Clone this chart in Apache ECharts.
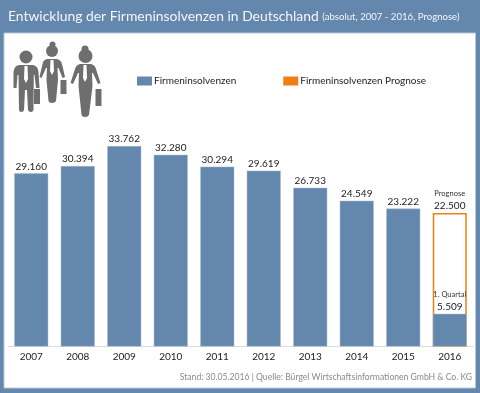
<!DOCTYPE html>
<html>
<head>
<meta charset="utf-8">
<style>
  html, body { margin: 0; padding: 0; background: #6487ae; }
  #chart { width: 480px; height: 393px; }
</style>
<script src="https://cdn.jsdelivr.net/npm/echarts@6/dist/echarts.min.js"></script>
</head>
<body>
<div id="chart"></div>
<script>
const years = ['2007', '2008', '2009', '2010', '2011', '2012', '2013', '2014', '2015', '2016']
const insolvenzen = [29160, 30394, 33762, 32280, 30294, 29619, 26733, 24549, 23222, 5509]
const prognose = [null, null, null, null, null, null, null, null, null, 22500]

const blue = '#6487ae'
const orange = '#f07f12'
const grey = '#6e6e6e'
const font = 'Lato'

const fmt = (v) => String(v).replace(/\B(?=(\d{3})+$)/g, '.')

// Figuren oben links
const figures = {
  man: 'M19 65L33 65Q38 66 38.5 72L39.5 88L36 88L34.5 75L33.8 75L33.5 110Q33 112 31 112Q28.5 112 28 110L27 90L25 90L24 110Q23.5 112 21.5 112Q19 112 19 110L18.5 75L17.5 75L16.5 88L13.5 88L13.5 72Q14 66 19 65Z',
  woman1: 'M47 59L57 59Q61 60 62 64L65 77L62.5 78L58.5 68L57.5 68L58 80L56 101Q55 103 52 103Q49 103 48.5 101L46.5 80L47 68L46 68L41.5 78L39.5 77L42.5 64Q43 60 47 59Z',
  woman2: 'M80 64L91 64Q95 65 96 69L100.5 83L98 84L93 73L92 73L92.5 86L89 115Q88 117 85 117Q82 117 81.5 115L78.5 86L79 73L78 73L73 84L70.5 83L75 69Q76 65 80 64Z'
}
Object.keys(figures).forEach((k) => {
  echarts.graphic.registerShape(k, echarts.graphic.extendPath(figures[k]))
})
const icon = (name) => ({ type: name, style: { fill: grey } })
const dot = (cx, cy, r) => ({ type: 'circle', shape: { cx: cx, cy: cy, r: r }, style: { fill: grey } })
const box = (x, y, w, h, fill) => ({ type: 'rect', shape: { x: x, y: y, width: w, height: h }, style: { fill: fill || grey } })
const tie = (x, y, h) => ({ type: 'polygon', shape: { points: [[x - 1.5, y], [x + 1.5, y], [x + 2, y + h - 4], [x, y + h], [x - 2, y + h - 4]] }, style: { fill: '#fff' } })

const chart = echarts.init(document.getElementById('chart'))
chart.setOption({
  animation: false,
  backgroundColor: blue,
  title: {
    text: 'Entwicklung der Firmeninsolvenzen in Deutschland {s|(absolut, 2007 - 2016, Prognose)}',
    left: 3,
    top: 5,
    textStyle: {
      color: '#f4f6f9',
      fontFamily: font,
      fontWeight: 'normal',
      fontSize: 13.9,
      rich: { s: { color: '#f4f6f9', fontFamily: font, fontSize: 9.6 } }
    }
  },
  legend: {
    left: 132,
    top: 71,
    itemWidth: 15,
    itemHeight: 9,
    itemGap: 47,
    textStyle: { color: '#222', fontFamily: font, fontSize: 10, padding: [0, 0, 0, -3] },
    data: [
      { name: 'Firmeninsolvenzen', icon: 'rect', itemStyle: { color: blue, borderWidth: 0 } },
      { name: 'Firmeninsolvenzen Prognose', icon: 'rect', itemStyle: { color: orange, borderWidth: 0 } }
    ]
  },
  grid: { left: 8, right: 7, top: 109, bottom: 46.5 },
  xAxis: {
    type: 'category',
    data: years,
    axisTick: { show: false },
    axisLine: { lineStyle: { color: '#dcdcdc', width: 1 } },
    axisLabel: { color: '#222', fontFamily: font, fontSize: 10, margin: 5 }
  },
  yAxis: { type: 'value', min: 0, max: 40000, show: false },
  series: [
    {
      name: 'Firmeninsolvenzen Prognose',
      type: 'bar',
      data: prognose,
      barWidth: 34,
      barGap: '-100%',
      z: 2,
      itemStyle: { color: '#fff', borderColor: orange, borderWidth: 1.5 },
      label: {
        show: true,
        position: 'top',
        distance: 1,
        formatter: (p) => '{a|Prognose}\n{b|' + fmt(p.value) + '}',
        rich: {
          a: { fontFamily: font, fontSize: 7.5, color: '#333', lineHeight: 12 },
          b: { fontFamily: font, fontSize: 10, color: '#222', lineHeight: 12 }
        }
      }
    },
    {
      name: 'Firmeninsolvenzen',
      type: 'bar',
      data: insolvenzen,
      barWidth: 34,
      z: 3,
      itemStyle: { color: blue, borderColor: '#a9bdd3', borderWidth: 0.5 },
      label: {
        show: true,
        position: 'top',
        distance: 1,
        formatter: (p) => (p.dataIndex === 9 ? '{a|1. Quartal}\n{b|' + fmt(p.value) + '}' : '{b|' + fmt(p.value) + '}'),
        rich: {
          a: { fontFamily: font, fontSize: 7.5, color: '#333', lineHeight: 12 },
          b: { fontFamily: font, fontSize: 10, color: '#222', lineHeight: 12 }
        }
      }
    }
  ],
  graphic: [
    { type: 'rect', z: -1, silent: true, shape: { x: 4, y: 33, width: 471.5, height: 355 }, style: { fill: '#fff', stroke: '#b7c8da', lineWidth: 1 } },
    {
      type: 'group',
      silent: true,
      children: [
        icon('man'), dot(26, 57, 6.5), box(34, 89, 6, 15), tie(26, 66, 17),
        icon('woman1'), dot(52, 51, 6), dot(52.5, 44.5, 3), box(60.5, 80, 6, 14), tie(52, 60, 15),
        icon('woman2'), dot(85.5, 56, 7), dot(85, 49, 3.5), box(95.5, 89, 6, 17), tie(85, 65, 17)
      ]
    },
    {
      type: 'text',
      right: 8,
      top: 373,
      style: { text: 'Stand: 30.05.2016 | Quelle: Bürgel Wirtschaftsinformationen GmbH & Co. KG', fill: '#8a8a8a', font: '8.6px ' + font }
    }
  ]
})
</script>
</body>
</html>
